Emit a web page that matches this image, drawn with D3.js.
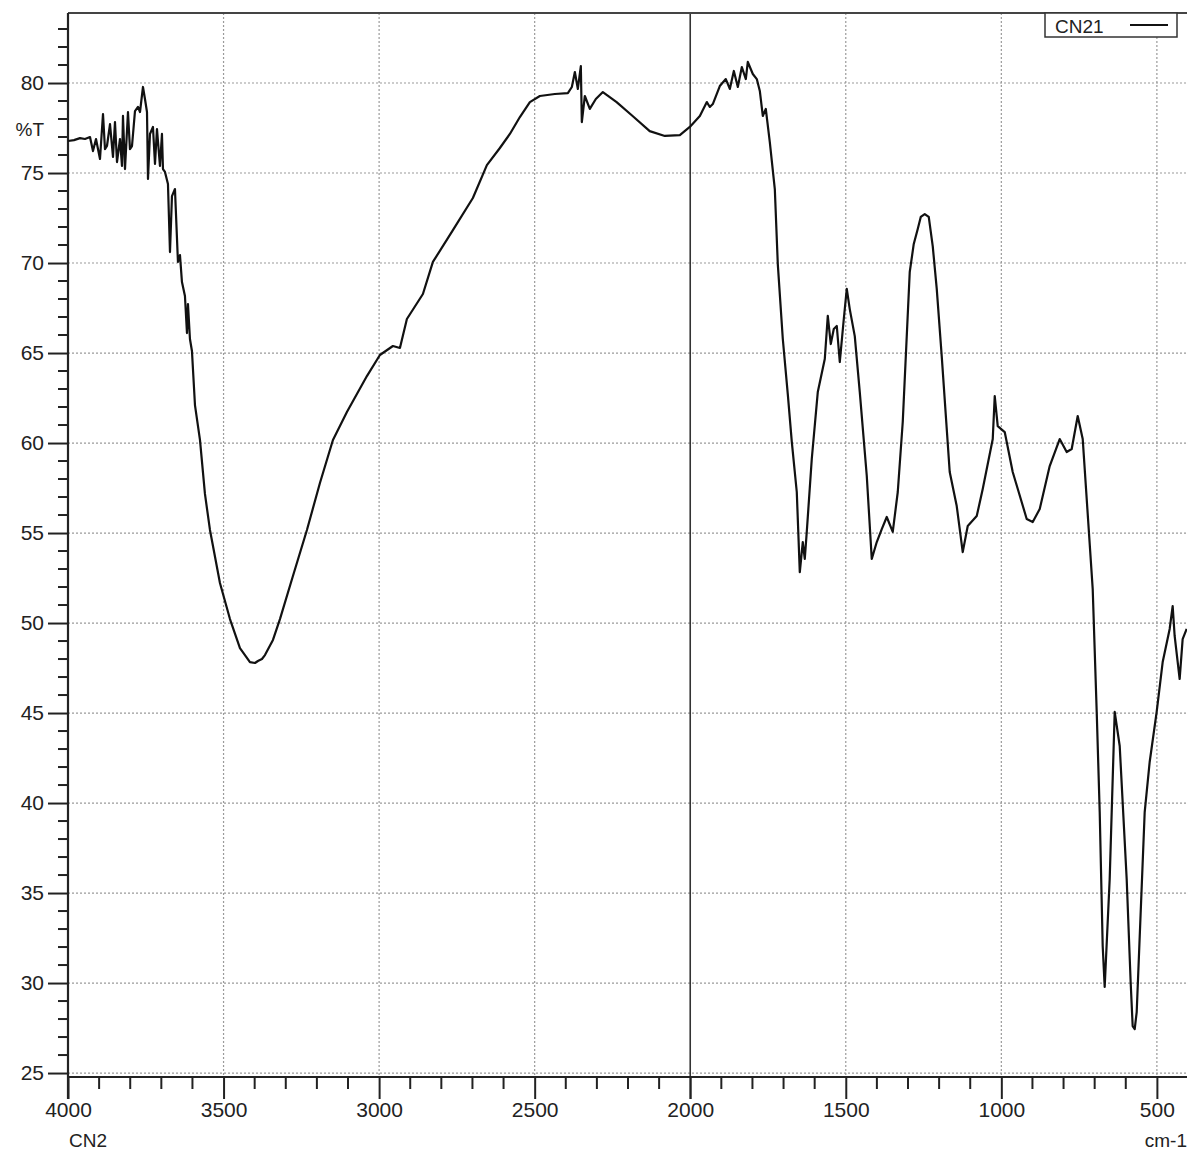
<!DOCTYPE html>
<html>
<head>
<meta charset="utf-8">
<script src="https://cdn.jsdelivr.net/npm/d3@7"></script>
<style>
    body { margin: 0; background: #fff; }
    .grid-line { stroke: #9a9a9a; stroke-width: 1.2; stroke-dasharray: 2,2; }
    text { font-family: "Liberation Sans", Arial, sans-serif; fill: #222; }
</style>
</head>
<body>
<div id="spectrum_viz"></div>
<script>

// FTIR spectrum CN21
const wavenumber = [
    4000, 3980.7, 3961.4, 3945.4, 3929.3, 3919.7, 3910, 3897.2, 3887.5, 3881.1,
    3874.7, 3865, 3855.4, 3849, 3842.5, 3832.9, 3826.5, 3823.3, 3816.8, 3807.2,
    3800.8, 3794.3, 3784.7, 3775.1, 3768.6, 3759, 3752.6, 3746.1, 3742.9, 3736.5,
    3726.9, 3720.4, 3714, 3704.4, 3698, 3694.7, 3688.3, 3678.7, 3672.2, 3665.8,
    3656.2, 3646.6, 3640.1, 3633.7, 3624.1, 3617.6, 3614.4, 3608, 3601.6, 3591.9,
    3575.8, 3559.8, 3543.7, 3511.6, 3479.4, 3447.3, 3431.2, 3415.2, 3399, 3389.5,
    3376.6, 3366.9, 3341.2, 3318.7, 3277, 3232, 3190.2, 3148.4, 3103.5, 3039.2,
    2997.4, 2955.6, 2933.1, 2910.7, 2859.2, 2827.1, 2762.8, 2698.6, 2653.6, 2611.8,
    2579.7, 2547.5, 2515.4, 2483.3, 2435.1, 2393.3, 2380.5, 2370.8, 2361.2, 2351.6,
    2348.4, 2338.7, 2322.7, 2303.4, 2280.8, 2236.6, 2185.2, 2130.2, 2081.6, 2033.4,
    2001.3, 1969.1, 1946.6, 1937, 1927.4, 1904.9, 1885.6, 1872.7, 1859.8, 1847,
    1834.1, 1821.3, 1814.9, 1798.8, 1786, 1776.3, 1766.7, 1757.1, 1744.2, 1728.1,
    1718.5, 1702.4, 1686.4, 1673.5, 1657.5, 1647.8, 1638.2, 1631.8, 1625.4, 1609.3,
    1590, 1567.5, 1557.8, 1548.2, 1538.6, 1528.9, 1519.3, 1506.4, 1496.8, 1487.2,
    1471.1, 1455, 1432.5, 1416.5, 1400.4, 1384.3, 1368.3, 1349, 1332.9, 1316.9,
    1294.4, 1281.5, 1268.7, 1259, 1246.2, 1233.3, 1220.5, 1207.6, 1191.6, 1165.9,
    1143.4, 1124.1, 1108, 1079.1, 1059.8, 1027.6, 1021.2, 1011.6, 989.1, 963.4,
    918.4, 899.1, 876.6, 844.5, 812.4, 789.9, 773.8, 754.5, 738.4, 706.3,
    693.4, 683.8, 674.2, 667.8, 651.7, 635.6, 619.5, 597.1, 584.2, 577.8,
    571.3, 564.9, 539.2, 523.2, 500.7, 481.4, 458.9, 449.3, 442.9, 426.8,
    417.2, 404.3
];

const transmittance = [
    76.78, 76.83, 76.94, 76.89, 77.0, 76.22, 76.89, 75.78, 78.28, 76.33,
    76.5, 77.72, 75.89, 77.83, 75.61, 76.89, 75.39, 78.17, 75.22, 78.39,
    76.33, 76.5, 78.44, 78.67, 78.39, 79.78, 79.11, 78.39, 74.67, 77.17,
    77.56, 75.5, 77.44, 75.39, 77.17, 75.22, 75.06, 74.39, 70.61, 73.72,
    74.11, 70.06, 70.44, 68.94, 68.17, 66.11, 67.72, 65.78, 65.11, 62.11,
    60.17, 57.17, 55.17, 52.22, 50.22, 48.61, 48.22, 47.83, 47.78, 47.89,
    48.0, 48.22, 49.06, 50.22, 52.61, 55.17, 57.78, 60.17, 61.72, 63.72,
    64.89, 65.39, 65.28, 66.89, 68.28, 70.06, 71.83, 73.61, 75.44, 76.39,
    77.17, 78.11, 78.94, 79.28, 79.39, 79.44, 79.78, 80.61, 79.67, 80.94,
    77.83, 79.28, 78.56, 79.11, 79.5, 78.94, 78.17, 77.33, 77.06, 77.11,
    77.56, 78.17, 78.94, 78.67, 78.83, 79.83, 80.22, 79.67, 80.67, 79.78,
    80.89, 80.22, 81.17, 80.5, 80.22, 79.56, 78.17, 78.56, 76.72, 74.11,
    69.94, 65.78, 62.72, 60.06, 57.28, 52.83, 54.5, 53.56, 55.06, 59.11,
    62.83, 64.67, 67.06, 65.5, 66.33, 66.5, 64.5, 66.89, 68.56, 67.44,
    65.94, 62.83, 58.17, 53.56, 54.5, 55.22, 55.89, 55.06, 57.28, 61.17,
    69.5, 71.06, 71.89, 72.56, 72.72, 72.56, 70.94, 68.56, 64.83, 58.39,
    56.5, 53.94, 55.39, 55.94, 57.44, 60.22, 62.61, 60.94, 60.61, 58.39,
    55.78, 55.61, 56.33, 58.72, 60.22, 59.5, 59.67, 61.5, 60.22, 51.89,
    45.06, 39.5, 32.06, 29.78, 35.78, 45.06, 43.17, 35.78, 30.0, 27.6,
    27.44, 28.39, 39.5, 42.28, 45.06, 47.83, 49.67, 50.94, 49.28, 46.89,
    49.11, 49.67
];

const xTickLabels = [4000, 3500, 3000, 2500, 2000, 1500, 1000, 500];
const yTickLabels = [25, 30, 35, 40, 45, 50, 55, 60, 65, 70, 75, 80];
const seriesName = "CN21";
const sampleName = "CN2";

function drawSpectrum() {

    const data = wavenumber.map((w, i) => ({wn: w, t: transmittance[i]}));
    const wnAccessor = d => d.wn;
    const tAccessor = d => d.t;

    // dimensions
    let dimensions = {
        width: 1187,
        height: 1150,
        margin: {top: 13, right: -1, bottom: 73, left: 68},
    }
    dimensions.boundedWidth = dimensions.width
        - dimensions.margin.left
        - dimensions.margin.right
    dimensions.boundedHeight = dimensions.height
        - dimensions.margin.top
        - dimensions.margin.bottom

    const svg = d3.select("#spectrum_viz")
        .append("svg")
            .attr("width", dimensions.width)
            .attr("height", dimensions.height)

    const bounds = svg.append("g")
        .attr("transform", `translate(${dimensions.margin.left}, ${dimensions.margin.top})`)

    // scales
    const xScale = d3.scaleLinear()
        .domain([4000, 400])
        .range([0, dimensions.boundedWidth])

    const yScale = d3.scaleLinear()
        .domain([24.78, 83.89])
        .range([dimensions.boundedHeight, 0])

    // grid
    const grid = bounds.append("g")

    grid.selectAll(".h-grid")
        .data(yTickLabels)
        .join("line")
            .attr("class", "grid-line")
            .attr("x1", 0)
            .attr("x2", dimensions.boundedWidth)
            .attr("y1", d => yScale(d))
            .attr("y2", d => yScale(d))

    grid.selectAll(".v-grid")
        .data(xTickLabels.filter(d => d != 4000 && d != 2000))
        .join("line")
            .attr("class", "grid-line")
            .attr("x1", d => xScale(d))
            .attr("x2", d => xScale(d))
            .attr("y1", 0)
            .attr("y2", dimensions.boundedHeight)

    // solid line at 2000
    bounds.append("line")
        .attr("x1", xScale(2000))
        .attr("x2", xScale(2000))
        .attr("y1", 0)
        .attr("y2", dimensions.boundedHeight + 22)
        .attr("stroke", "#333")
        .attr("stroke-width", 1.6)

    // frame top
    bounds.append("line")
        .attr("x1", 0)
        .attr("x2", dimensions.boundedWidth)
        .attr("y1", 0)
        .attr("y2", 0)
        .attr("stroke", "#444")
        .attr("stroke-width", 2)

    // y axis
    const yAxis = d3.axisLeft(yScale)
        .tickValues(yTickLabels)
        .tickSize(20)
        .tickPadding(4)
        .tickFormat(d3.format("d"))

    const yAxisG = bounds.append("g").call(yAxis)
    yAxisG.select(".domain").remove()
    yAxisG.selectAll(".tick line").attr("stroke", "#222").attr("stroke-width", 2)
    yAxisG.selectAll(".tick text")
        .attr("font-size", 21)
        .attr("font-family", "Liberation Sans, Arial, sans-serif")
        .attr("fill", "#222")

    const yMinor = d3.range(25, 84, 1).filter(d => d % 5 != 0)
    bounds.append("g").selectAll("line")
        .data(yMinor)
        .join("line")
            .attr("x1", -10)
            .attr("x2", 0)
            .attr("y1", d => yScale(d))
            .attr("y2", d => yScale(d))
            .attr("stroke", "#222")
            .attr("stroke-width", 2)

    bounds.append("line")
        .attr("x1", 0).attr("x2", 0)
        .attr("y1", 0).attr("y2", dimensions.boundedHeight + 22)
        .attr("stroke", "#222")
        .attr("stroke-width", 2.2)

    // x axis
    const xAxis = d3.axisBottom(xScale)
        .tickValues(xTickLabels)
        .tickSize(22)
        .tickPadding(3)
        .tickFormat(d3.format("d"))

    const xAxisG = bounds.append("g")
        .attr("transform", `translate(0, ${dimensions.boundedHeight})`)
        .call(xAxis)
    xAxisG.select(".domain").remove()
    xAxisG.selectAll(".tick line").attr("stroke", "#222").attr("stroke-width", 2)
    xAxisG.selectAll(".tick text")
        .attr("font-size", 21)
        .attr("font-family", "Liberation Sans, Arial, sans-serif")
        .attr("fill", "#222")

    const xMinor = d3.range(3900, 400, -100).filter(d => d % 500 != 0)
    bounds.append("g").selectAll("line")
        .data(xMinor)
        .join("line")
            .attr("x1", d => xScale(d))
            .attr("x2", d => xScale(d))
            .attr("y1", dimensions.boundedHeight)
            .attr("y2", dimensions.boundedHeight + 12)
            .attr("stroke", "#222")
            .attr("stroke-width", 2)

    bounds.append("line")
        .attr("x1", 0).attr("x2", dimensions.boundedWidth)
        .attr("y1", dimensions.boundedHeight).attr("y2", dimensions.boundedHeight)
        .attr("stroke", "#222")
        .attr("stroke-width", 2.2)

    // spectrum
    const lineGenerator = d3.line()
        .x(d => xScale(wnAccessor(d)))
        .y(d => yScale(tAccessor(d)))

    bounds.append("path")
        .datum(data)
        .attr("d", lineGenerator)
        .attr("fill", "none")
        .attr("stroke", "#111")
        .attr("stroke-width", 2.2)
        .attr("stroke-linejoin", "round")

    // labels
    svg.append("text")
        .attr("x", 44)
        .attr("y", 136)
        .attr("text-anchor", "end")
        .attr("font-size", 19)
        .text("%T")

    svg.append("text")
        .attr("x", 69)
        .attr("y", 1147)
        .attr("font-size", 19)
        .text(sampleName)

    svg.append("text")
        .attr("x", 1187)
        .attr("y", 1147)
        .attr("text-anchor", "end")
        .attr("font-size", 19)
        .text("cm-1")

    // legend
    const legend = svg.append("g")
    legend.append("rect")
        .attr("x", 1045)
        .attr("y", 13)
        .attr("width", 132)
        .attr("height", 24)
        .attr("fill", "#fff")
        .attr("stroke", "#333")
        .attr("stroke-width", 1.5)
    legend.append("text")
        .attr("x", 1055)
        .attr("y", 33)
        .attr("font-size", 19)
        .text(seriesName)
    legend.append("line")
        .attr("x1", 1130)
        .attr("x2", 1168)
        .attr("y1", 25)
        .attr("y2", 25)
        .attr("stroke", "#111")
        .attr("stroke-width", 2)
}

drawSpectrum();
</script>
</body>
</html>
